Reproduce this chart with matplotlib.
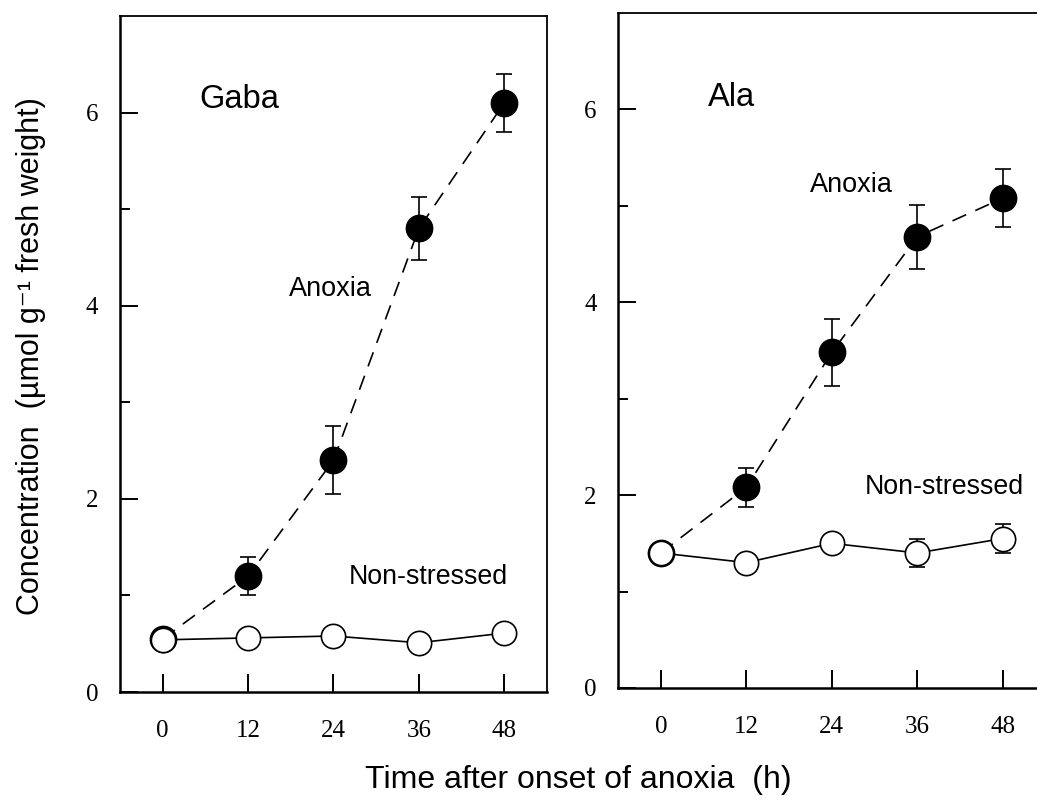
import numpy as np
import matplotlib.pyplot as plt

# hours after onset of anoxia
hours = [0, 12, 24, 36, 48]

# Gaba (left panel)
gaba_anoxia = [0.55, 1.20, 2.40, 4.80, 6.10]
gaba_anoxia_err = [0.05, 0.20, 0.35, 0.33, 0.30]
gaba_control = [0.54, 0.56, 0.58, 0.51, 0.61]
gaba_control_err = [0.04, 0.04, 0.04, 0.03, 0.03]

# Ala (right panel)
ala_anoxia = [1.40, 2.08, 3.48, 4.68, 5.08]
ala_anoxia_err = [0.05, 0.20, 0.35, 0.33, 0.30]
ala_control = [1.40, 1.30, 1.50, 1.40, 1.55]
ala_control_err = [0.05, 0.05, 0.05, 0.15, 0.15]

sans = ['Liberation Sans', 'DejaVu Sans']
serif = 'Liberation Serif'

fig = plt.figure(figsize=(10.37, 8.07), dpi=100)
ax1 = fig.add_axes([0.1157, 0.1425, 0.4118, 0.8377])
ax2 = fig.add_axes([0.596, 0.1475, 0.4123, 0.8364])


def draw_panel(ax, anox, anox_err, ctrl, ctrl_err):
    ax.errorbar(hours, anox, yerr=anox_err, fmt='o', ls=(0, (9, 6)), color='black',
                lw=1.2, ms=19, mfc='black', mec='black', capsize=5.5, elinewidth=1.2,
                capthick=1.2, zorder=3)
    ax.errorbar(hours, ctrl, yerr=ctrl_err, fmt='o', ls='-', color='black',
                lw=1.2, ms=17.5, mfc='white', mec='black', mew=1.2, capsize=5.5,
                elinewidth=1.2, capthick=1.2, zorder=4)
    ax.set_xlim(-6, 54)
    ax.set_ylim(0, 7)
    ax.set_xticks(hours)
    ax.set_yticks([0, 2, 4, 6])
    ax.set_yticks([1, 3, 5], minor=True)
    ax.tick_params(axis='x', direction='in', length=13, width=1.4, pad=20)
    ax.tick_params(axis='y', which='major', direction='in', length=13, width=1.4, pad=15.5)
    ax.tick_params(axis='y', which='minor', direction='in', length=7, width=1.4)
    for lab in ax.get_xticklabels() + ax.get_yticklabels():
        lab.set_fontfamily(serif)
        lab.set_fontsize(18)
    for s in ['left', 'bottom']:
        ax.spines[s].set_linewidth(1.8)
    for s in ['top', 'right']:
        ax.spines[s].set_linewidth(1.3)


draw_panel(ax1, gaba_anoxia, gaba_anoxia_err, gaba_control, gaba_control_err)
draw_panel(ax2, ala_anoxia, ala_anoxia_err, ala_control, ala_control_err)

ax1.text(5.2, 6.14, 'Gaba', fontfamily=sans, fontsize=23.5, va='center')
ax1.text(17.8, 4.17, 'Anoxia', fontfamily=sans, fontsize=19.5, va='center')
ax1.text(26.2, 1.19, 'Non-stressed', fontfamily=sans, fontsize=19.3, va='center')

ax2.text(6.6, 6.12, 'Ala', fontfamily=sans, fontsize=23.5, va='center')
ax2.text(21.0, 5.22, 'Anoxia', fontfamily=sans, fontsize=19.5, va='center')
ax2.text(28.6, 2.08, 'Non-stressed', fontfamily=sans, fontsize=19.3, va='center')

fig.text(0.030, 0.559, 'Concentration  (µmol g⁻¹ fresh weight)', rotation=90,
         fontfamily=sans, fontsize=22, ha='center', va='center')
fig.text(0.558, 0.034, 'Time after onset of anoxia  (h)',
         fontfamily=sans, fontsize=23, ha='center', va='center')

plt.savefig('out.png', dpi=100)
